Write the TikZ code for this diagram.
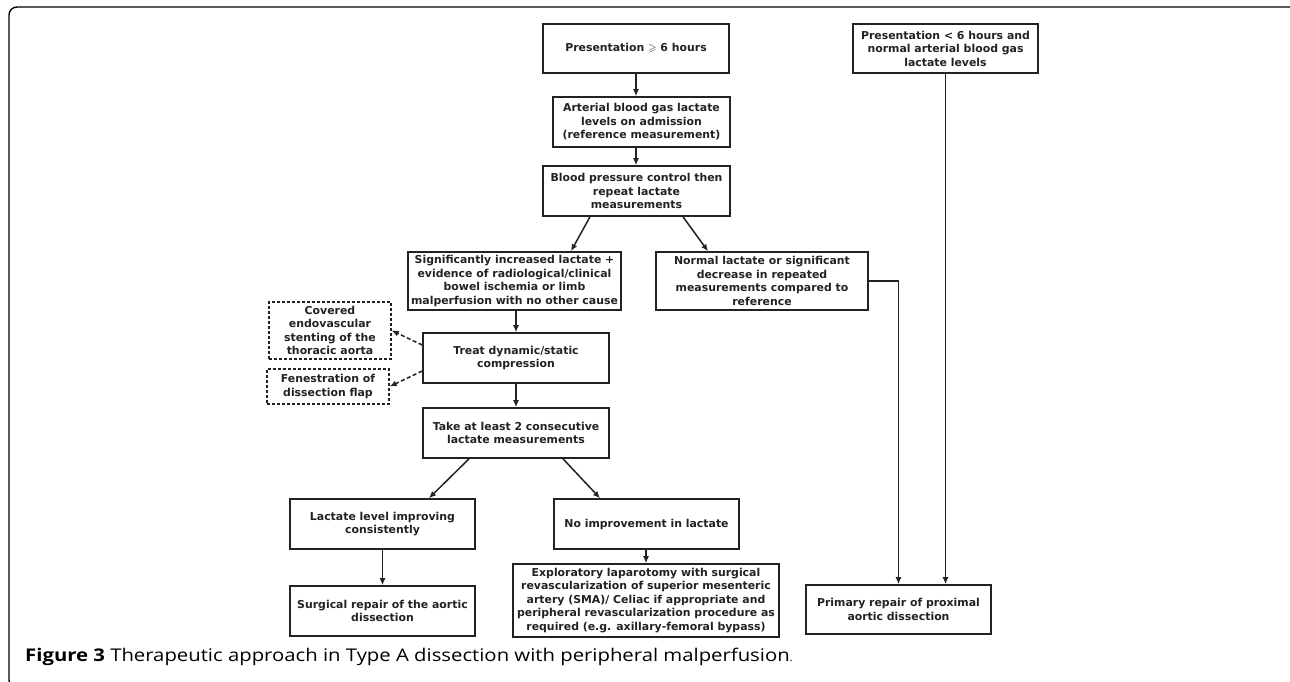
\documentclass[tikz,border=0pt]{standalone}
\usepackage{amssymb}
\usepackage{fontspec}
\setmainfont{DejaVu Sans}
\newfontfamily\capfont[FakeStretch=1.16]{Open Sans}
\usetikzlibrary{arrows.meta}
\definecolor{ink}{HTML}{222222}
\begin{document}
\begin{tikzpicture}[x=1pt, y=-1pt,
    box/.style={draw=ink, line width=1.6pt, inner sep=0pt, align=center, text=ink,
                font=\bfseries\fontsize{10.9}{13.5}\selectfont},
    dbox/.style={box, line width=1.4pt, dash pattern=on 3pt off 2pt},
    arr/.style={draw=ink, line width=1.5pt, -{Latex[length=7pt,width=6pt]}},
    darr/.style={arr, dash pattern=on 4pt off 2.5pt}]
    \clip (0,0) rectangle (1290,681);
    % Frame
    \draw[line width=1.4pt, rounded corners=8pt] (9,7) rectangle (1298,688);

    % Main column
    \node[box, minimum width=186pt, minimum height=49pt] (pres) at (636,48.5) {Presentation $\geqslant$ 6 hours};
    \node[box, minimum width=177pt, minimum height=50pt] (abg) at (641.5,122) {Arterial blood gas lactate\\levels on admission\\(reference measurement)};
    \node[box, minimum width=187pt, minimum height=50pt] (bp) at (636.5,191) {Blood pressure control then\\repeat lactate\\measurements};
    \node[box, minimum width=213pt, minimum height=58pt] (sig) at (514.5,281) {Significantly increased lactate +\\evidence of radiological/clinical\\bowel ischemia or limb\\malperfusion with no other cause};
    \node[box, minimum width=212pt, minimum height=58pt] (norm) at (762,281) {Normal lactate or significant\\decrease in repeated\\measurements compared to\\reference};
    \node[box, minimum width=186pt, minimum height=50pt] (treat) at (516,358) {Treat dynamic/static\\compression};
    \node[box, minimum width=186pt, minimum height=50pt] (take) at (516,433) {Take at least 2 consecutive\\lactate measurements};

    % Options for compression
    \node[dbox, minimum width=122pt, minimum height=57pt] (cov) at (330,330.5) {Covered\\endovascular\\stenting of the\\thoracic aorta};
    \node[dbox, minimum width=122pt, minimum height=35pt] (fen) at (328,386.5) {Fenestration of\\dissection flap};

    % Outcomes
    \node[box, minimum width=185pt, minimum height=50pt] (impr) at (382.5,524) {Lactate level improving\\consistently};
    \node[box, minimum width=185pt, minimum height=50pt] (noimpr) at (646.5,524) {No improvement in lactate};
    \node[box, minimum width=185pt, minimum height=50pt] (surg) at (382.5,611) {Surgical repair of the aortic\\dissection};
    \node[box, minimum width=266pt, minimum height=73pt] (expl) at (646,600.5) {Exploratory laparotomy with surgical\\revascularization of superior mesenteric\\artery (SMA)/ Celiac if appropriate and\\peripheral revascularization procedure as\\required (e.g. axillary-femoral bypass)};

    % Early presentation
    \node[box, minimum width=185pt, minimum height=49pt] (early) at (945.5,48.5) {Presentation < 6 hours and\\normal arterial blood gas\\lactate levels};
    \node[box, minimum width=185pt, minimum height=49pt] (prim) at (898.5,609.5) {Primary repair of proximal\\aortic dissection};

    % Connectors
    \draw[arr] (pres.south) -- (pres.south |- abg.north);
    \draw[arr] (pres.south |- abg.south) -- (pres.south |- bp.north);
    \draw[arr] ([xshift=-46.5pt]bp.south) -- ([xshift=56.5pt]sig.north);
    \draw[arr] ([xshift=46.5pt]bp.south) -- ([xshift=-54pt]norm.north);
    \draw[arr] (treat.north |- sig.south) -- (treat.north);
    \draw[arr] (treat.south) -- (take.north);
    \draw[darr] ([yshift=13pt]treat.west) -- (cov.east);
    \draw[darr] ([yshift=-13pt]treat.west) -- (fen.east);
    \draw[arr] ([xshift=-47pt]take.south) -- ([xshift=46.5pt]impr.north);
    \draw[arr] ([xshift=47pt]take.south) -- ([xshift=-46.5pt]noimpr.north);
    \draw[arr] (impr.south) -- (surg.north);
    \draw[arr] (noimpr.south -| expl.north) -- (expl.north);
    \draw[arr] (norm.east) -| (prim.north);
    \draw[arr] (early.south) -- (early.south |- prim.north);

    % Caption
    \node[anchor=base west, inner sep=0pt, font=\capfont\fontsize{17.5}{20}\selectfont, text=black] (cap) at (25,661)
        {\textbf{Figure 3} Therapeutic approach in Type A dissection with peripheral malperfusion{\fontsize{10}{10}\selectfont.}};
\end{tikzpicture}
\end{document}
